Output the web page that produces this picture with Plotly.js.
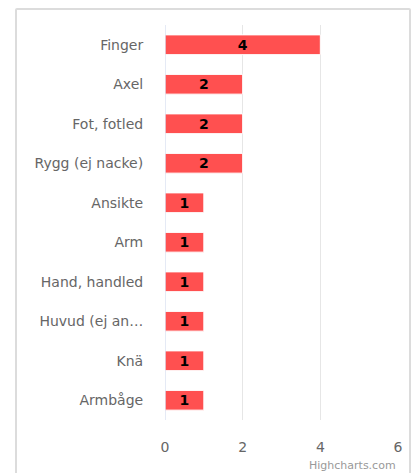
<!DOCTYPE html>
<html><head><meta charset="utf-8">
<script src="https://cdn.plot.ly/plotly-3.0.1.min.js"></script>
<style>
html,body{margin:0;padding:0;background:#fff;}
#frame{position:absolute;left:15px;top:8px;width:396px;height:480px;border:2px solid #dcdcdc;border-radius:2px;box-sizing:border-box;}
#chart{position:absolute;left:0;top:0;width:419px;height:473px;}
</style></head>
<body>
<div id="frame"></div>
<div id="chart"></div>
<script>
const categories = ["Finger","Axel","Fot, fotled","Rygg (ej nacke)","Ansikte","Arm","Hand, handled","Huvud (ej an…","Knä","Armbåge"];
const values = [4,2,2,2,1,1,1,1,1,1];
const xTicks = [0,2,4,6];

const trace = {
  type:'bar', orientation:'h',
  x: values, y: categories,
  width: 0.5,
  marker:{color:'#ff5050', line:{color:'#ffffff', width:1}},
  text: values.map(String), textposition:'inside', insidetextanchor:'middle', textangle:0,
  constraintext:'none',
  textfont:{family:'"DejaVu Sans", sans-serif', size:14, color:'#000000', weight:'bold'},
  hoverinfo:'none'
};
const layout = {
  width:419, height:473,
  margin:{l:165, r:21, t:25, b:53},
  paper_bgcolor:'rgba(0,0,0,0)', plot_bgcolor:'rgba(0,0,0,0)',
  showlegend:false,
  font:{family:'"DejaVu Sans", sans-serif', color:'#666666', size:13},
  xaxis:{range:[0,6], tickvals:xTicks, ticktext:xTicks.map(String), showgrid:true, gridcolor:'#e6e6e6', gridwidth:1,
    zeroline:false, showline:false, ticks:'outside', ticklen:14, tickcolor:'rgba(0,0,0,0)',
    tickfont:{size:14, color:'#666666'}, fixedrange:true},
  yaxis:{type:'category', autorange:'reversed', showgrid:false, zeroline:false,
    showline:false, ticks:'outside', ticklen:18, tickcolor:'rgba(0,0,0,0)',
    tickfont:{size:14, color:'#666666'}, fixedrange:true},
  shapes:[{type:'line', xref:'x', yref:'paper', x0:0, x1:0, y0:0, y1:1, line:{color:'#ccd6eb', width:1}}],
  annotations:[{text:'Highcharts.com', xref:'paper', yref:'paper', x:1, y:0, yshift:-45, xanchor:'right', yanchor:'middle',
    showarrow:false, font:{size:11, color:'#999999'}}]
};
Plotly.newPlot('chart',[trace],layout,{displayModeBar:false, staticPlot:true});
</script>
</body></html>
